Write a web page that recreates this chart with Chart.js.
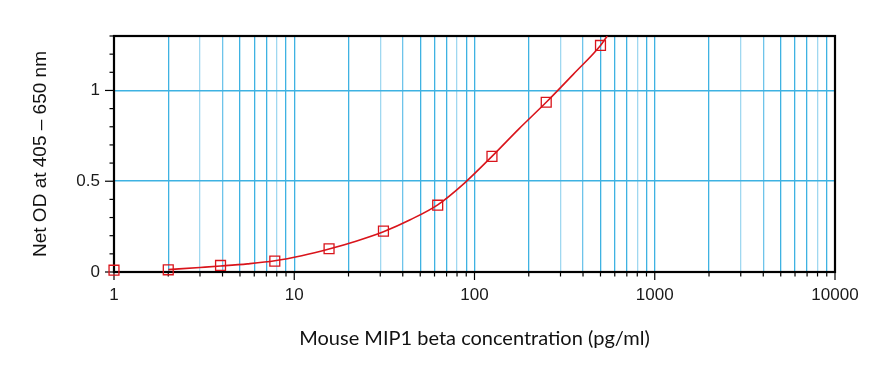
<!DOCTYPE html>
<html>
<head>
<meta charset="utf-8">
<script src="https://cdn.jsdelivr.net/npm/chart.js@4"></script>
<style>
  html, body { margin: 0; padding: 0; background: #fff; }
  #wrap { width: 895px; height: 379px; position: relative; }
</style>
</head>
<body>
<div id="wrap"><canvas id="c" width="895" height="379"></canvas></div>
<script>
// ---- data ----
const concentrations = [1, 2, 3.9, 7.8, 15.6, 31.25, 62.5, 125, 250, 500];
const netOD          = [0.01, 0.012, 0.036, 0.06, 0.128, 0.225, 0.368, 0.637, 0.935, 1.248];
// fitted curve
const fitX  = [2, 3, 3.9, 5.5, 7.8, 11, 15.6, 22, 31.25, 44, 62.5, 88, 125, 177, 250, 354, 500, 545];
const fitY  = [0.013, 0.025, 0.033, 0.045, 0.062, 0.09, 0.127, 0.17, 0.222, 0.288, 0.37, 0.49, 0.637, 0.79, 0.935, 1.09, 1.248, 1.3];
const xTickLabels = [1, 10, 100, 1000, 10000];
const xDecades = [1, 10, 100, 1000];
const xMantissas = [1, 2, 3, 4, 5, 6, 7, 8, 9];
const yTickLabels = [0, 0.5, 1];
const yGridValues = [0.5, 1];
const xTitle = 'Mouse MIP1 beta concentration (pg/ml)';
const yTitle = 'Net OD at 405 \u2013 650 nm';

const RED = '#d9141b';
const GRID_DARK = 'rgb(62,178,226)';
const GRID_LIGHT = 'rgb(160,216,240)';
const GRID_MED = 'rgb(110,196,234)';

const xTickValues = [];
xDecades.forEach(d => xMantissas.forEach(m => xTickValues.push(d * m)));
xTickValues.push(10000);

function mantissa(v) {
  const e = Math.floor(Math.log10(v) + 1e-9);
  return Math.round(v / Math.pow(10, e));
}
function near(a, b) { return Math.abs(a - b) < 1e-6; }

const framePlugin = {
  id: 'frame',
  beforeDatasetsDraw(chart) {
    const {ctx, chartArea: a, scales} = chart;
    ctx.save();
    ctx.strokeStyle = '#000';
    ctx.lineWidth = 1.2;
    scales.x.ticks.forEach(t => {
      const px = scales.x.getPixelForValue(t.value);
      const major = xTickLabels.some(v => near(v, t.value));
      ctx.beginPath();
      ctx.moveTo(px, a.bottom);
      ctx.lineTo(px, a.bottom + (major ? 8 : 4.5));
      ctx.stroke();
    });
    scales.y.ticks.forEach(t => {
      const py = scales.y.getPixelForValue(t.value);
      const major = yTickLabels.some(v => near(v, t.value));
      ctx.beginPath();
      ctx.moveTo(a.left, py);
      ctx.lineTo(a.left - (major ? 9 : 4.5), py);
      ctx.stroke();
    });
    ctx.lineWidth = 2.2;
    ctx.strokeRect(a.left, a.top, a.right - a.left, a.bottom - a.top);
    ctx.restore();
  }
};

new Chart(document.getElementById('c'), {
  type: 'scatter',
  data: {
    datasets: [
      {
        label: 'fit',
        type: 'line',
        data: fitX.map((x, i) => ({x, y: fitY[i]})),
        borderColor: RED,
        borderWidth: 1.6,
        pointRadius: 0,
        fill: false,
        cubicInterpolationMode: 'monotone',
        order: 2
      },
      {
        label: 'points',
        data: concentrations.map((x, i) => ({x, y: netOD[i]})),
        pointStyle: 'rect',
        pointRadius: 7,
        pointBorderWidth: 1.3,
        pointBorderColor: RED,
        pointBackgroundColor: 'rgba(0,0,0,0)',
        showLine: false,
        clip: false,
        order: 1
      }
    ]
  },
  options: {
    responsive: false,
    animation: false,
    devicePixelRatio: 1,
    layout: { padding: { left: 0, right: 60, top: 36, bottom: 0 } },
    plugins: { legend: { display: false }, tooltip: { enabled: false } },
    scales: {
      x: {
        type: 'logarithmic',
        min: 1, max: 10000,
        afterFit(s) { s.height = 107; },
        afterBuildTicks(s) { s.ticks = xTickValues.map(v => ({ value: v })); },
        border: { display: false },
        grid: {
          drawTicks: false,
          lineWidth: 1.3,
          color: ctx => {
            const v = ctx.tick && ctx.tick.value;
            if (!v || near(v, 1) || near(v, 10000)) return 'rgba(0,0,0,0)';
            const m = mantissa(v);
            if (m === 3 || m === 8) return GRID_LIGHT;
            if (m === 4) return GRID_MED;
            return GRID_DARK;
          }
        },
        ticks: {
          autoSkip: false,
          maxRotation: 0,
          padding: 13,
          color: '#1a1a1a',
          font: { family: 'Liberation Sans', size: 17 },
          callback: v => xTickLabels.some(l => near(l, v)) ? String(v) : ''
        },
        title: {
          display: true,
          text: xTitle,
          color: '#111',
          font: { family: 'Lato', size: 20 },
          padding: { top: 0, bottom: 28 }
        }
      },
      y: {
        min: 0, max: 1.3,
        afterFit(s) { s.width = 114; },
        border: { display: false },
        grid: {
          drawTicks: false,
          lineWidth: 1.5,
          color: ctx => {
            const v = ctx.tick && ctx.tick.value;
            return yGridValues.some(g => near(g, v)) ? GRID_DARK : 'rgba(0,0,0,0)';
          }
        },
        ticks: {
          stepSize: 0.1,
          autoSkip: false,
          padding: 14,
          color: '#1a1a1a',
          font: { family: 'Liberation Sans', size: 17 },
          callback: v => yTickLabels.some(l => near(l, v)) ? String(Math.round(v * 10) / 10) : ''
        },
        title: {
          display: true,
          text: yTitle,
          color: '#111',
          font: { family: 'Liberation Sans', size: 19 },
          padding: { top: 29, bottom: 0 }
        }
      }
    }
  },
  plugins: [framePlugin]
});
</script>
</body>
</html>
